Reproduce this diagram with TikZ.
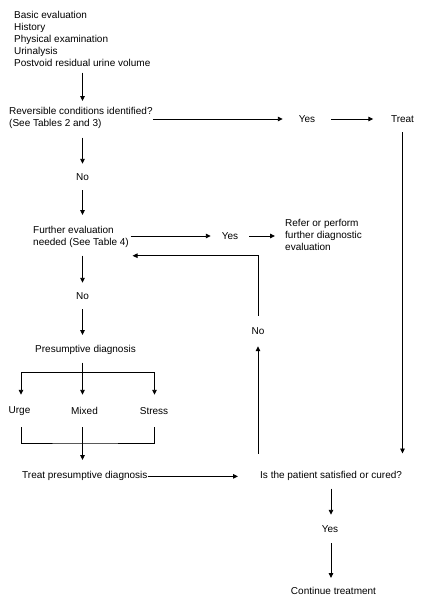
\documentclass[tikz,border=0pt]{standalone}
\usepackage{fontspec}
\setmainfont{Liberation Sans}
\usetikzlibrary{arrows.meta,calc}
\begin{document}
\begin{tikzpicture}[x=1pt,y=-1pt,
  txt/.style={inner sep=0pt, font=\fontsize{10}{12}\selectfont, align=left},
  lbl/.style={inner sep=0pt, font=\fontsize{10}{12}\selectfont, minimum height=26pt},
  arr/.style={line width=0.9pt, -{Triangle[length=5pt,width=4.5pt]}},
  ln/.style={line width=0.9pt}]
\useasboundingbox[fill=white] (0,0) rectangle (431,608);

% nodes
\node[txt, anchor=north west] (basic) at (14,11) {Basic evaluation\\History\\Physical examination\\Urinalysis\\Postvoid residual urine volume};
\node[txt, anchor=north west] (rev) at (9,107) {Reversible conditions identified?\\(See Tables 2 and 3)};
\node[lbl, minimum width=48pt] (yes1) at (307,119) {Yes};
\node[lbl, minimum width=58pt] (treat) at (402.5,119) {Treat};
\node[lbl] (no1) at (82.5,177) {No};
\node[txt, anchor=north west] (further) at (33,226) {Further evaluation\\needed (See Table 4)};
\node[lbl, minimum width=38pt] (yes2) at (230,236) {Yes};
\node[txt, anchor=north west] (refer) at (285,219) {Refer or perform\\further diagnostic\\evaluation};
\node[lbl] (no2) at (82.5,296) {No};
\node[lbl, minimum height=30pt] (no3) at (258,331) {No};
\node[txt, anchor=north] (pres) at (85.5,345) {Presumptive diagnosis};
\node[lbl, minimum height=32pt] (urge) at (19.5,411) {Urge};
\node[lbl, minimum height=32pt] (mixed) at (84.5,411) {Mixed};
\node[lbl, minimum height=32pt] (stress) at (154,411) {Stress};
\node[txt, anchor=north west] (tpd) at (22,471.5) {Treat presumptive diagnosis};
\node[txt, anchor=north west] (sat) at (260,471.5) {Is the patient satisfied or cured?};
\node[lbl, minimum height=28pt] (yes3) at (330,529) {Yes};
\node[txt, anchor=north] (cont) at (333.5,587) {Continue treatment};

% routing helpers
\coordinate (c1) at (82.5,0);
\coordinate (c3) at (331,0);
\coordinate (bl) at (21,372);
\coordinate (bm) at (82.5,372);
\coordinate (br) at (154.5,372);
\coordinate (bot) at (82.5,443);

% connectors
\draw[arr] ($(basic.south -| c1)+(0,6)$) -- ($(rev.north -| c1)+(0,-6)$);
\draw[arr] (rev.east |- yes1) -- (yes1.west);
\draw[arr] (yes1.east) -- (treat.west);
\draw[arr] (treat.south) -- ($(sat.north -| treat)+(0,-18)$);
\draw[arr] ($(rev.south -| c1)+(0,9)$) -- (no1.north);
\draw[arr] (no1.south) -- ($(further.north -| c1)+(0,-11)$);
\draw[arr] ($(further.east |- yes2)+(1.5,0)$) -- (yes2.west);
\draw[arr] (yes2.east) -- ($(refer.west |- yes2)+(-10,0)$);
\draw[arr] ($(further.south -| c1)+(0,8)$) -- (no2.north);
\draw[arr] (no2.south) -- ($(pres.north -| c1)+(0,-10)$);
\draw[arr] (no3.north) |- ($(further.south east)+(3.5,8)$);
\draw[arr] ($(sat.north -| no3)+(0,-18)$) -- (no3.south);
\draw[arr] ($(pres.south -| bm)+(0,8)$) -- (mixed.north -| bm);
\draw[ln] (bl) -- (br);
\draw[arr] (bl) -- (urge.north -| bl);
\draw[arr] (br) -- (stress.north -| br);
\draw[ln] (urge.south -| bl) |- (bot) -| (stress.south -| br);
\draw[arr] (mixed.south -| bm) -- ($(tpd.north -| bm)+(0,-11.5)$);
\draw[arr] (tpd.east) -- ($(sat.west |- tpd.east)+(-22,0)$);
\draw[arr] ($(sat.south -| c3)+(0,7.5)$) -- (yes3.north -| c3);
\draw[arr] (yes3.south -| c3) -- ($(cont.north -| c3)+(0,-9)$);
\end{tikzpicture}
\end{document}
